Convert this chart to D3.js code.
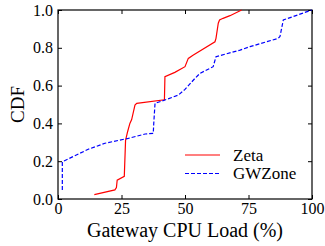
<!DOCTYPE html>
<html>
<head>
<meta charset="utf-8">
<script src="https://cdn.jsdelivr.net/npm/d3@7"></script>
<style>
  body { margin: 0; background: #fff; }
  svg text { font-family: "Liberation Serif", "Times New Roman", Times, "DejaVu Serif", serif !important; fill: #000; }
</style>
</head>
<body>
<div class="chart"></div>
<script>
// Zeta CDF (gateway CPU load %, cumulative fraction)
var zetaLoad = [14.3, 22.4, 23.0, 23.3, 26.1, 26.6, 27.4, 28.3, 29.0, 30.3, 31.0, 41.9, 42.1, 46.0, 50.0, 51.3, 53.3, 61.8, 62.2, 63.1, 63.6, 65.0, 67.7, 72.3];
var zetaCdf  = [0.023, 0.048, 0.06, 0.10, 0.12, 0.31, 0.356, 0.40, 0.42, 0.497, 0.506, 0.525, 0.647, 0.67, 0.70, 0.744, 0.762, 0.832, 0.85, 0.93, 0.947, 0.956, 0.97, 1.0];

// GWZone CDF
var gwLoad = [1.7, 1.7, 6.0, 11.9, 18.5, 27.7, 34.3, 37.5, 37.7, 38.2, 42.1, 47.4, 50.0, 53.9, 55.9, 61.1, 62.2, 71.7, 75.6, 86.7, 87.4, 88.7, 99.9];
var gwCdf  = [0.048, 0.197, 0.225, 0.263, 0.295, 0.321, 0.344, 0.347, 0.40, 0.506, 0.524, 0.55, 0.58, 0.638, 0.665, 0.70, 0.753, 0.788, 0.806, 0.85, 0.86, 0.947, 1.0];

var xTicks = [0, 25, 50, 75, 100];
var yTicks = [0, 0.2, 0.4, 0.6, 0.8, 1.0];

var seriesNames = ["Zeta", "GWZone"];
var seriesColors = ["#ff0000", "#0000ff"];
var seriesDash = [null, "4,2"];

var serif = "'Liberation Serif', 'Times New Roman', Times, 'DejaVu Serif', serif";

var width = 325, height = 246;
var margin = {top: 10, right: 13, bottom: 47, left: 58};
var w = width - margin.left - margin.right,
    h = height - margin.top - margin.bottom;

var svg = d3.select(".chart")
  .append("svg")
  .attr("width", width)
  .attr("height", height);

var g = svg.append("g")
  .attr("transform", "translate(" + margin.left + "," + margin.top + ")");

var x = d3.scaleLinear().domain([0, 100]).range([0, w]);
var y = d3.scaleLinear().domain([0, 1]).range([h, 0]);

// axes, ticks pointing inward
g.append("g")
  .attr("transform", "translate(0," + h + ")")
  .call(d3.axisBottom(x).tickValues(xTicks).tickSizeInner(-4).tickSizeOuter(0).tickPadding(4));
g.append("g")
  .call(d3.axisLeft(y).tickValues(yTicks).tickFormat(d3.format(".1f")).tickSizeInner(-4).tickSizeOuter(0).tickPadding(5));
g.append("g")
  .call(d3.axisTop(x).tickValues(xTicks).tickSizeInner(-4).tickSizeOuter(0).tickFormat(""));
g.append("g")
  .attr("transform", "translate(" + w + ",0)")
  .call(d3.axisRight(y).tickValues(yTicks).tickSizeInner(-4).tickSizeOuter(0).tickFormat(""));

g.selectAll(".domain").remove();
g.selectAll("g").attr("font-family", serif);
g.selectAll(".tick line").attr("stroke", "#000").attr("stroke-width", 1);
g.selectAll(".tick text")
  .attr("font-family", serif)
  .style("font-size", "16px");

g.append("rect")
  .attr("width", w)
  .attr("height", h)
  .attr("fill", "none")
  .attr("stroke", "#000")
  .attr("stroke-width", 1.2);

var line = d3.line()
  .x(function(d){ return x(d[0]); })
  .y(function(d){ return y(d[1]); });

var series = [
  d3.zip(zetaLoad, zetaCdf),
  d3.zip(gwLoad, gwCdf)
];

series.forEach(function(s, i){
  g.append("path")
    .datum(s)
    .attr("fill", "none")
    .attr("stroke", seriesColors[i])
    .attr("stroke-width", 1.2)
    .attr("stroke-dasharray", seriesDash[i])
    .attr("d", line);
});

// legend
var legend = g.append("g").attr("transform", "translate(127,145)");
seriesNames.forEach(function(name, i){
  var row = legend.append("g").attr("transform", "translate(0," + (i * 18.5) + ")");
  row.append("line")
    .attr("x1", 0).attr("x2", 35)
    .attr("stroke", seriesColors[i])
    .attr("stroke-width", 1.2)
    .attr("stroke-dasharray", seriesDash[i]);
  row.append("text")
    .attr("x", 48)
    .attr("dy", "0.35em")
    .attr("font-family", serif)
    .style("font-size", "17px")
    .text(name);
});

// axis labels
svg.append("text")
  .attr("x", margin.left + w / 2)
  .attr("y", 236.5)
  .attr("text-anchor", "middle")
  .attr("font-family", serif)
  .style("font-size", "20px")
  .text("Gateway CPU Load (%)");

svg.append("text")
  .attr("transform", "translate(24," + (margin.top + h / 2) + ") rotate(-90)")
  .attr("text-anchor", "middle")
  .attr("font-family", serif)
  .style("font-size", "19px")
  .text("CDF");
</script>
</body>
</html>
